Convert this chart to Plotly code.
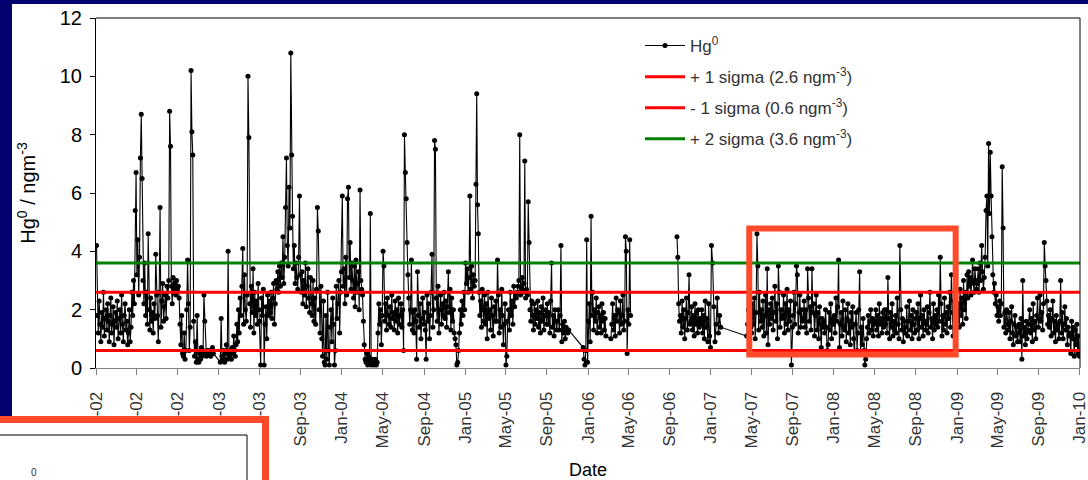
import plotly.graph_objects as go
import pandas as pd

# ---- data ----
# tokens: number = value, "." = empty time slot (line continues), "-" = gap (line broken)
years = [2002, 2003, 2004, 2005, 2006, 2007, 2008, 2009]

hg_2002 = [
    "4.2 1.8 1.2 2.3 1.5 0.9 1.9 1.4 2.6 1.1 1.7 2.0",
    "1.3 2.2 1.6 0.9 1.8 2.4 1.2 1.5 2.1 0.8 1.6 1.9",
    "1.4 2.3 1.0 1.7 2.0 1.2 2.5 1.5 0.9 1.8 2.2 1.3",
    "1.6 0.8 1.2 2.0 0.9 1.4 2.6 1.8 3.0 2.2 5.4 6.7",
    "3.2 4.4 2.5 3.8 7.2 8.7 6.5 3.0 2.2 3.6 1.8 2.6",
    "1.5 4.6 2.0 1.3 2.4 1.6 1.9 1.2 2.2 1.7 3.9 2.5",
    "1.8 0.9 2.6 5.5 1.4 2.3 2.9 1.6 2.1 2.5 1.7 2.8",
    "2.4 3.0 8.8 7.6 2.8 2.2 3.1 2.6 2.9 2.5 3.0 2.7",
    "2.8 2.4 1.5 0.8 1.8 0.5 0.4 1.2 0.3 0.6 2.0 3.7",
    "2.2 0.6 1.4 10.2 8.1 7.3 1.6 0.4 0.9 0.2 1.8 0.3",
    "0.2 0.5 0.3 0.7 0.4 0.6 2.5 1.6 0.5 0.4 0.6 0.5",
    "0.5 0.6 0.4 0.5 0.7 0.5 . . . . . .",
]
hg_2003 = [
    ". 0.2 1.7 0.4 0.3 0.6 0.2 0.5 0.8 0.3 4.0 0.5",
    "0.4 0.6 0.3 0.7 0.5 1.1 0.6 0.4 0.8 1.5 0.9 2.0",
    "1.2 2.4 1.8 2.8 4.1 1.5 3.2 2.0 1.6 2.5 10.0 7.9",
    "2.2 1.4 2.8 1.9 3.4 1.2 2.6 1.8 2.3 1.5 2.9 2.0",
    "1.6 0.1 2.4 1.8 2.7 0.1 1.5 2.1 1.0 2.5 1.8 2.3",
    "1.9 2.6 1.7 2.4 2.9 1.5 2.2 3.0 2.7 3.3 2.6 3.5",
    "2.8 3.6 3.1 4.5 2.9 3.8 5.5 7.2 4.2 3.5 6.2 4.8",
    "10.8 7.3 5.2 3.4 4.2 2.9 3.6 3.1 2.7 3.8 5.9 3.2",
    "2.6 3.3 2.2 3.0 2.5 3.6 2.1 2.8 3.4 2.4 1.9 3.1",
    "2.2 1.8 3.0 1.6 2.4 1.5 2.7 5.5 4.7 2.0 1.2 2.8",
    "1.0 0.4 2.3 0.2 0.1 1.8 0.3 2.6 0.6 0.1 1.4 2.0",
    "0.9 2.4 1.5 0.1 0.6 2.8 1.7 2.2 3.0 1.2 2.6 3.3",
]
hg_2004 = [
    "5.9 2.8 3.4 2.2 3.8 2.5 5.8 6.2 3.1 4.3 2.7 3.6",
    "3.0 2.4 3.5 2.1 3.7 2.6 2.9 3.3 2.0 6.1 3.0 2.7",
    "2.5 1.6 0.8 0.3 0.2 0.5 0.1 0.4 0.2 5.3 0.1 0.3",
    "0.2 0.1 0.2 0.3 0.1 0.2 1.2 2.2 1.5 2.0 0.8 1.8",
    "4.0 3.5 1.6 2.2 1.3 2.4 1.8 1.5 2.1 1.4 2.5 1.7",
    "1.9 1.3 2.3 1.6 2.0 1.2 2.4 1.5 1.8 2.2 1.4 2.0",
    "0.6 8.0 6.7 5.8 4.3 3.2 2.4 1.5 2.0 3.7 1.3 1.9",
    "1.2 2.0 1.6 0.3 3.3 1.8 1.4 2.2 1.0 1.7 2.4 1.5",
    "1.9 1.3 0.3 2.5 1.6 2.2 1.0 1.8 2.6 3.9 1.4 2.0",
    "7.8 7.5 2.4 1.6 2.8 1.2 2.0 2.5 1.5 2.2 1.8 2.6",
    "1.7 2.3 1.4 2.1 3.3 1.9 2.7 1.3 2.4 1.6 2.0 1.2",
    "1.0 0.8 0.1 0.2 0.6 1.2 2.0 1.5 2.3 1.8 2.6 2.0",
]
hg_2005 = [
    "3.6 2.9 3.4 2.6 3.1 5.9 2.7 3.5 2.4 3.2 2.8 3.0",
    "6.3 9.4 5.6 4.6 2.6 1.8 2.3 1.4 2.7 2.0 1.6 2.5",
    "1.5 2.2 1.0 2.6 1.7 2.0 1.3 2.4 1.8 1.1 2.1 1.6",
    "2.3 1.6 3.7 2.5 1.2 2.0 1.4 2.7 1.8 0.8 1.5 2.2",
    "0.1 0.4 1.6 2.0 1.3 2.6 1.8 2.3 1.5 2.8 2.1 2.5",
    "2.4 2.6 2.8 3.0 8.0 2.5 2.7 3.1 2.6 2.9 7.1 2.4",
    "2.7 2.5 5.7 4.3 2.0 1.6 2.3 1.8 1.3 2.2 1.5 2.0",
    "1.7 2.3 1.4 1.9 1.2 2.1 1.6 2.4 1.3 1.8 2.0 1.5",
    "2.2 1.5 1.9 1.2 2.3 3.6 1.4 1.8 1.1 2.0 1.6 1.3",
    "1.6 2.0 1.3 1.8 4.2 0.9 1.5 1.2 1.6 1.0 1.4 1.3",
    "1.2 1.3 . . . . . . . . . .",
    ". . . . . . 0.7 0.3 0.1 0.6 4.4 0.2",
]
hg_2006 = [
    "1.6 2.2 0.9 5.2 1.8 2.6 1.3 2.0 1.6 2.4 1.2 1.9",
    "2.1 1.4 1.8 1.2 2.2 1.6 1.9 1.3 1.7 1.1 . .",
    ". . . 1.0 1.5 2.2 1.3 1.8 1.1 2.4 1.6 2.0",
    "1.9 1.2 2.3 1.5 1.8 2.5 1.3 1.6 4.5 4.0 0.5 2.0",
    "1.5 4.4 1.8 - . . . . . . . .",
    "",
    "",
    "",
    ". . . . . . . . 4.5 3.8 2.2 1.6",
    "1.8 1.2 2.3 1.4 2.0 1.0 1.7 2.4 1.3 1.9 3.2 1.5",
    "1.6 2.1 1.3 1.8 1.1 2.2 1.5 1.9 1.2 2.0 1.4 1.7",
    "1.5 2.0 1.2 1.8 1.0 2.3 1.4 1.7 0.9 2.2 1.1 0.7",
]
hg_2007 = [
    "4.2 3.6 2.1 0.9 1.5 2.4 1.2 1.8 1.4",
    "",
    "",
    ". . . . . . 1.1 1.5 2.0 1.2 1.8 1.4",
    "1.2 2.2 1.5 2.4 1.0 1.9 4.6 3.5 1.3 2.6 1.6 2.0",
    "1.4 2.3 1.1 1.8 2.5 1.2 3.4 0.8 2.0 1.5 2.2 1.7",
    "2.4 1.3 1.9 2.8 1.6 2.2 1.0 3.5 2.6 1.4 2.0 1.7",
    "1.8 2.5 1.2 2.2 1.5 2.7 1.3 2.0 1.6 2.3 0.1 1.4",
    "1.8 2.6 1.5 2.2 3.5 3.2 1.2 1.9 2.5 1.4 2.0 1.6",
    "1.7 2.3 1.4 2.0 1.2 3.4 2.4 1.6 2.1 1.3 3.4 1.9",
    "2.2 1.1 1.8 2.5 1.3 1.9 1.0 2.1 1.5 0.7 1.7 1.4",
    "1.6 1.2 2.0 1.4 0.6 0.8 1.9 1.3 2.2 1.0 1.7 1.5",
]
hg_2008 = [
    "1.8 1.2 2.4 1.6 2.1 3.7 0.7 1.5 1.9 1.1 2.3 1.4",
    "1.3 2.0 0.9 1.7 2.2 1.2 1.6 0.8 1.9 1.4 2.1 1.0",
    "0.5 1.5 1.9 0.6 1.2 2.0 3.3 0.5 1.4 0.8 1.7 0.6",
    "0.1 0.3 1.0 1.4 1.8 1.2 1.6 2.0 1.3 1.7 1.1 1.5",
    "1.6 2.0 1.3 1.8 1.1 2.2 1.5 1.7 1.2 1.9 1.4 2.0",
    "1.5 2.0 1.2 3.1 1.7 1.0 1.9 1.4 2.2 1.1 1.6 1.3",
    "1.8 1.2 2.4 1.5 1.0 4.2 2.0 1.3 1.7 0.9 1.6 1.2",
    "1.4 2.1 1.1 1.6 2.3 1.3 1.8 1.0 2.0 1.5 1.2 1.7",
    "1.9 1.3 2.2 1.0 1.7 2.5 1.4 1.8 1.1 2.0 1.6 1.3",
    "1.5 2.1 1.2 1.9 2.6 1.4 1.7 1.0 2.2 1.3 1.8 1.5",
    "2.0 1.4 2.5 1.6 3.8 2.2 1.1 1.8 1.3 2.4 1.5 1.9",
    "1.2 2.1 1.7 2.6 1.4 3.2 1.9 1.1 2.3 1.6 2.0 1.8",
]
hg_2009 = [
    "1.6 2.2 1.4 2.7 1.8 2.4 1.5 3.0 2.0 2.6 1.7 3.2",
    "2.4 3.3 2.8 3.1 2.5 3.0 3.7 2.9 2.6 3.4 3.0 2.7",
    "2.9 3.4 2.6 3.6 3.0 4.2 3.3 2.7 3.1 3.8 5.4 5.9",
    "3.5 7.7 5.3 7.4 5.9 4.5 3.2 2.6 2.9 2.2 2.5 1.8",
    "2.1 1.6 2.3 1.8 2.2 6.9 4.8 1.4 1.9 1.2 2.0 1.5",
    "1.3 1.9 1.0 1.6 2.1 1.2 0.8 1.5 1.8 1.1 1.4 0.9",
    "1.2 1.5 0.9 1.7 0.3 3.0 1.1 1.4 0.8 1.6 1.0 1.3",
    "1.5 2.0 1.2 1.7 0.9 2.2 1.3 1.6 1.0 1.8 2.4 1.4",
    "1.7 2.5 1.6 1.9 1.3 2.2 4.3 3.5 3.0 2.3 1.5 1.8",
    "1.4 2.0 1.1 1.7 2.3 1.2 1.6 0.9 1.8 1.3 1.5 1.0",
    "1.6 3.0 1.2 1.9 1.0 1.5 2.1 1.3 1.7 0.8 1.4 1.1",
    "1.2 0.5 1.6 1.0 1.4 0.4 1.3 0.8 1.5 0.5 1.1 0.4",
]
yearly_data = [hg_2002, hg_2003, hg_2004, hg_2005, hg_2006, hg_2007, hg_2008, hg_2009]

sigma_levels = [2.6, 0.6, 3.6]
sigma_names = ["+ 1 sigma", "- 1 sigma", "+ 2 sigma"]
sigma_colors = ["#ff0000", "#ff0000", "#008000"]

tick_labels = ["Jan-02", "May-02", "Sep-02", "Jan-03", "May-03", "Sep-03",
               "Jan-04", "May-04", "Sep-04", "Jan-05", "May-05", "Sep-05",
               "Jan-06", "May-06", "Sep-06", "Jan-07", "May-07", "Sep-07",
               "Jan-08", "May-08", "Sep-08", "Jan-09", "May-09", "Sep-09", "Jan-10"]

x_start, x_end = "2002-01-01", "2010-01-01"
highlight = dict(x0="2007-04-25", x1="2008-12-28", y0=0.46, y1=4.78)

# ---- build series ----
dates, vals = [], []
for year, months in zip(years, yearly_data):
    for m, s in enumerate(months, start=1):
        toks = s.split()
        if not toks:
            continue
        start = pd.Timestamp(year, m, 1)
        nd = start.days_in_month
        n = len(toks)
        for i, t in enumerate(toks):
            d = start + pd.Timedelta(days=(i + 0.5) * nd / n)
            if t == ".":
                continue
            dates.append(d)
            vals.append(None if t == "-" else float(t))

tickvals = list(pd.date_range(x_start, x_end, freq="4MS"))
x_range = [pd.Timestamp(x_start) - pd.Timedelta(hours=6), pd.Timestamp(x_end) + pd.Timedelta(hours=6)]

FONT = "Liberation Sans, Arial, sans-serif"

fig = go.Figure()
fig.add_trace(go.Scatter(
    x=dates, y=vals, mode="lines+markers", name="Hg<sup>0</sup>",
    legendgroup="hg",
    line=dict(color="#000000", width=1.1),
    marker=dict(color="#000000", size=5),
    connectgaps=False,
))
for k, (lvl, nm, col) in enumerate(zip(sigma_levels, sigma_names, sigma_colors)):
    fig.add_trace(go.Scatter(
        x=[x_start, x_end], y=[lvl, lvl], mode="lines",
        name=f"{nm} ({lvl} ngm<sup>-3</sup>)", legendgroup=f"s{k}",
        line=dict(color=col, width=3),
    ))

L, R, T, B = 96, 8, 18, 112
W, H = 1088, 480
pw, ph = W - L - R, H - T - B


def px(x):
    return (x - L) / pw


def py(y):
    return (H - B - y) / ph


shapes = [
    # white slide panel
    dict(type="rect", xref="paper", yref="paper", x0=px(12), x1=px(1100),
         y0=py(490), y1=py(4), fillcolor="white", line=dict(width=0), layer="below"),
    # frame top/right
    dict(type="line", xref="paper", yref="paper", x0=0, x1=1, y0=1, y1=1,
         line=dict(color="#000000", width=1)),
    dict(type="line", xref="paper", yref="paper", x0=1, x1=1, y0=0, y1=1,
         line=dict(color="#000000", width=1)),
    # highlight box
    dict(type="rect", xref="x", yref="y", **highlight,
         line=dict(color="#ff4a2a", width=6), fillcolor="rgba(0,0,0,0)"),
    # cut-off inset at bottom left
    dict(type="rect", xref="paper", yref="paper", x0=px(-10), x1=px(265.5),
         y0=py(500), y1=py(419.5), fillcolor="white",
         line=dict(color="#ff4a2a", width=7)),
    dict(type="rect", xref="paper", yref="paper", x0=px(-10), x1=px(247),
         y0=py(500), y1=py(435), fillcolor="white",
         line=dict(color="#000000", width=1)),
]

fig.update_layout(
    width=W, height=H,
    margin=dict(l=L, r=R, t=T, b=B, pad=0, autoexpand=False),
    paper_bgcolor="#00006e",
    plot_bgcolor="white",
    font=dict(family=FONT, color="#000000"),
    showlegend=True,
    legend=dict(x=px(640), y=py(28), xanchor="left", yanchor="top",
                bgcolor="rgba(0,0,0,0)", font=dict(size=17, color="#333333"),
                itemwidth=40, tracegroupgap=6),
    shapes=shapes,
    annotations=[dict(text="0", xref="paper", yref="paper", x=px(29), y=py(472),
                      yanchor="middle", showarrow=False,
                      font=dict(size=10, color="#333333"))],
)
fig.update_xaxes(
    type="date", range=x_range, automargin=False,
    tickmode="array", tickvals=tickvals, ticktext=tick_labels,
    tickangle=-90, ticks="outside", ticklen=6, tickcolor="#808080",
    ticklabelstandoff=10, ticklabeloverflow="allow",
    tickfont=dict(size=17, color="#333333"),
    showline=True, linecolor="#808080", linewidth=1,
    showgrid=False, zeroline=False,
    title=dict(text="Date", font=dict(size=18, color="#000000"), standoff=16),
)
fig.update_yaxes(
    range=[0, 12], dtick=2, ticks="outside", ticklen=5, tickcolor="#000000",
    automargin=False,
    tickfont=dict(size=20, color="#000000"),
    ticklabelstandoff=4,
    showline=True, linecolor="#000000", linewidth=1,
    showgrid=False, zeroline=False,
    title=dict(text="Hg<sup>0</sup> / ngm<sup>-3</sup>", font=dict(size=20, color="#000000"),
               standoff=18),
)

fig.write_html("out.html")
